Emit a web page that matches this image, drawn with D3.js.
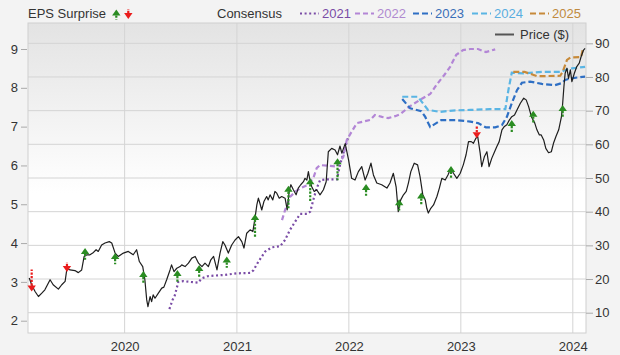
<!DOCTYPE html>
<html><head><meta charset="utf-8">
<script src="https://cdn.jsdelivr.net/npm/d3@7"></script>
<style>
html,body{margin:0;padding:0;background:#f3f3f3;}
svg{display:block;font-family:"Liberation Sans",Arial,sans-serif;}
</style></head>
<body><svg id="c" width="620" height="355"></svg>
<script>
// ---------------- DATA ----------------
const priceDates = ["2019-02-24","2019-03-04","2019-03-15","2019-03-26","2019-04-06","2019-04-16","2019-05-03","2019-05-13","2019-05-30","2019-06-10","2019-06-21","2019-06-27","2019-07-07","2019-07-23","2019-08-03","2019-08-14","2019-08-22","2019-08-31","2019-09-10","2019-09-19","2019-09-30","2019-10-07","2019-10-18","2019-10-29","2019-11-12","2019-11-20","2019-12-01","2019-12-11","2019-12-28","2020-01-13","2020-01-29","2020-02-09","2020-02-18","2020-02-29","2020-03-07","2020-03-13","2020-03-17","2020-03-24","2020-03-29","2020-04-03","2020-04-09","2020-04-20","2020-05-01","2020-05-08","2020-05-17","2020-05-28","2020-06-02","2020-06-10","2020-06-19","2020-06-30","2020-07-05","2020-07-16","2020-07-27","2020-08-07","2020-08-18","2020-08-29","2020-09-09","2020-09-19","2020-09-30","2020-10-08","2020-10-17","2020-10-28","2020-11-07","2020-11-16","2020-11-23","2020-12-04","2020-12-15","2020-12-26","2021-01-06","2021-01-17","2021-01-24","2021-02-02","2021-02-13","2021-02-22","2021-03-01","2021-03-07","2021-03-12","2021-03-17","2021-03-23","2021-03-30","2021-04-08","2021-04-13","2021-04-19","2021-04-28","2021-05-05","2021-05-11","2021-05-19","2021-05-27","2021-06-07","2021-06-14","2021-06-21","2021-06-26","2021-07-04","2021-07-13","2021-07-20","2021-07-28","2021-08-06","2021-08-11","2021-08-17","2021-08-22","2021-08-28","2021-09-02","2021-09-10","2021-09-18","2021-09-29","2021-10-10","2021-10-19","2021-10-26","2021-11-06","2021-11-17","2021-11-25","2021-12-03","2021-12-09","2021-12-20","2021-12-31","2022-01-10","2022-01-21","2022-02-01","2022-02-12","2022-02-23","2022-03-04","2022-03-14","2022-03-22","2022-04-02","2022-04-18","2022-05-05","2022-05-15","2022-05-26","2022-06-04","2022-06-11","2022-06-19","2022-06-28","2022-07-07","2022-07-14","2022-07-22","2022-08-02","2022-08-13","2022-08-21","2022-08-30","2022-09-07","2022-09-12","2022-09-17","2022-09-25","2022-10-04","2022-10-15","2022-10-23","2022-10-31","2022-11-11","2022-11-20","2022-11-29","2022-12-08","2022-12-19","2022-12-30","2023-01-09","2023-01-18","2023-01-26","2023-02-04","2023-02-11","2023-02-19","2023-02-25","2023-03-05","2023-03-10","2023-03-19","2023-03-27","2023-04-03","2023-04-12","2023-04-21","2023-04-28","2023-05-06","2023-05-15","2023-05-23","2023-05-31","2023-06-08","2023-06-16","2023-06-25","2023-07-03","2023-07-14","2023-07-25","2023-08-02","2023-08-10","2023-08-19","2023-08-30","2023-09-06","2023-09-14","2023-09-20","2023-09-28","2023-10-05","2023-10-14","2023-10-23","2023-10-30","2023-11-07","2023-11-16","2023-11-25","2023-11-29","2023-12-03","2023-12-07","2023-12-13","2023-12-18","2023-12-24","2023-12-29","2024-01-06","2024-01-14","2024-01-22","2024-01-28","2024-02-05","2024-02-10"];
const priceValues = [20.3,18.3,16.3,14.8,15.8,16.8,19.8,18.3,17.0,18.3,19.3,23.2,22.7,22.5,21.9,22.7,26.7,27.2,27.2,27.7,28.7,28.2,30.1,30.7,31.1,30.7,27.7,26.7,27.7,28.2,27.2,28.7,25.2,23.7,19.8,13.8,11.8,14.8,13.3,15.3,14.3,15.8,17.3,17.6,19.8,22.7,24.2,22.2,23.2,23.7,24.2,23.7,24.7,26.2,26.7,24.7,23.7,24.7,23.7,25.7,26.7,22.7,27.7,31.1,30.1,27.7,30.1,31.6,32.6,31.1,29.2,33.6,34.6,34.1,38.1,42.0,44.0,42.5,40.5,43.0,44.5,43.5,45.0,43.5,46.0,45.5,44.0,44.5,44.0,40.5,46.5,48.0,46.5,45.0,47.0,48.0,48.9,49.9,49.4,51.9,48.9,47.4,46.0,46.5,45.0,46.5,48.9,57.8,58.8,58.3,56.9,59.5,57.4,60.2,55.4,49.9,49.4,51.9,53.4,49.4,51.4,54.4,50.9,48.5,48.0,47.0,48.5,51.4,47.4,40.0,43.5,45.0,46.0,48.5,51.9,54.4,53.9,50.4,45.0,43.5,41.0,39.6,41.0,42.0,44.5,47.0,49.9,49.4,50.9,52.9,51.4,49.9,51.4,53.9,56.9,60.8,60.8,60.3,61.8,62.3,57.4,53.4,56.4,57.8,53.4,55.9,57.8,59.3,60.8,64.3,65.3,65.8,67.2,68.2,68.7,70.2,72.2,73.7,73.2,71.2,68.2,66.3,64.3,62.8,62.8,61.3,58.8,57.5,57.8,60.3,62.3,64.3,68.2,72.2,77.1,81.1,82.6,79.6,82.1,78.6,81.1,83.1,84.1,86.0,88.0,88.5];

const consensusYears = ["2021","2022","2023","2024","2025"];
const eps2021Dates = ["2020-05-26","2020-06-05","2020-06-13","2020-06-24","2020-07-10","2020-08-01","2020-08-28","2020-09-08","2020-09-30","2020-11-23","2020-12-31","2021-02-13","2021-02-24","2021-03-12","2021-04-03","2021-04-25","2021-05-22","2021-06-07","2021-06-23","2021-07-13","2021-07-26","2021-08-17","2021-08-28","2021-09-07","2021-09-18","2021-09-29","2021-10-21","2021-11-23","2021-12-03","2021-12-20","2021-12-30"];
const eps2021Values = [2.30,2.53,2.66,3.00,3.02,3.00,2.98,3.09,3.15,3.18,3.22,3.23,3.30,3.52,3.78,3.89,3.92,4.08,4.34,4.59,4.75,4.75,4.81,5.11,5.41,5.62,5.64,5.64,6.01,6.48,6.73];
const eps2022Dates = ["2021-05-28","2021-06-07","2021-06-23","2021-07-10","2021-07-26","2021-08-17","2021-09-07","2021-09-18","2021-09-29","2021-11-23","2021-12-14","2021-12-25","2022-01-10","2022-01-27","2022-02-17","2022-03-11","2022-03-27","2022-04-19","2022-05-09","2022-06-01","2022-06-17","2022-07-20","2022-08-21","2022-09-23","2022-10-16","2022-11-08","2022-11-27","2022-12-17","2023-01-08","2023-02-01","2023-02-26","2023-03-24","2023-04-23"];
const eps2022Values = [4.59,4.85,5.19,5.32,5.41,5.49,5.67,5.93,6.01,5.97,6.22,6.65,6.87,7.09,7.13,7.17,7.30,7.25,7.22,7.27,7.32,7.53,7.69,7.84,8.10,8.33,8.54,8.85,8.97,9.00,9.00,8.92,8.99];
const eps2023Dates = ["2022-06-24","2022-07-20","2022-08-25","2022-09-07","2022-09-23","2022-10-13","2022-10-29","2022-12-14","2023-02-01","2023-02-26","2023-03-24","2023-04-23","2023-05-15","2023-05-31","2023-06-16","2023-07-03","2023-07-19","2023-08-15","2023-09-22","2023-11-04","2023-11-26","2023-12-07","2023-12-24","2024-01-20","2024-02-10"];
const eps2023Values = [7.71,7.47,7.40,7.25,6.99,7.09,7.17,7.17,7.13,7.09,6.98,6.98,7.04,7.25,7.60,7.94,8.13,8.16,8.10,8.07,8.12,8.20,8.24,8.27,8.29];
const eps2024Dates = ["2022-06-24","2022-08-14","2022-09-16","2022-10-25","2022-12-14","2023-02-01","2023-04-06","2023-05-26","2023-06-05","2023-06-16","2023-07-25","2023-09-22","2023-11-26","2023-12-07","2023-12-29","2024-02-10"];
const eps2024Values = [7.77,7.77,7.43,7.38,7.42,7.43,7.45,7.45,7.94,8.39,8.37,8.41,8.41,8.46,8.50,8.54];
const eps2025Dates = ["2023-06-21","2023-07-28","2023-09-06","2023-11-21","2023-11-29","2023-12-13","2023-12-24","2024-01-28","2024-02-02"];
const eps2025Values = [8.41,8.41,8.30,8.31,8.41,8.72,8.78,8.79,8.97];

const surpriseDates = ["2019-03-04","2019-06-27","2019-08-25","2019-12-01","2020-03-02","2020-06-21","2020-08-31","2020-11-29","2021-03-01","2021-06-18","2021-08-28","2021-11-25","2022-02-26","2022-06-14","2022-08-25","2022-11-30","2023-02-22","2023-06-16","2023-08-25","2023-11-29"];
const surprisePrices = [16.3,22.1,29.2,27.7,22.4,22.7,24.2,26.7,39.3,47.7,49.9,55.9,48.2,43.7,45.7,53.6,61.8,67.2,70.0,71.7];
const surprisePct = [-25,-5,8,7,8,8,9.5,7,28,26,28,25,8,7,8,9.5,-8,8,8,8];

const yearTicks = ["2020","2021","2022","2023","2024"];
const epsTicks = [2,3,4,5,6,7,8,9];
const priceTicks = [10,20,30,40,50,60,70,80,90];

// ---------------- CHART ----------------
const parse = d3.timeParse("%Y-%m-%d");
const svg = d3.select("#c");
const L = 28, R = 586, T = 23, B = 333;
const x = d3.scaleTime().domain([parse("2019-02-20"), parse("2024-02-13")]).range([L, R]);
const yP = d3.scaleLinear().domain([10, 90]).range([312.7, 43.3]);
const yE = d3.scaleLinear().domain([2, 9]).range([320.7, 49]);
const stemScale = d3.scaleLinear().domain([0, 30]).range([0, 18]);

const defs = svg.append("defs");
const g = defs.append("linearGradient").attr("id","bg").attr("x1",0).attr("y1",0).attr("x2",0).attr("y2",1);
g.append("stop").attr("offset","0%").attr("stop-color","#e3e3e3");
g.append("stop").attr("offset","55%").attr("stop-color","#ffffff");
g.append("stop").attr("offset","100%").attr("stop-color","#ffffff");

svg.append("rect").attr("x",0).attr("y",0).attr("width",620).attr("height",355).attr("fill","#f3f3f3");
svg.append("rect").attr("x",L).attr("y",T).attr("width",R-L).attr("height",B-T).attr("fill","url(#bg)");

// grid
svg.append("g").selectAll("line").data(priceTicks).join("line")
  .attr("x1",L).attr("x2",R).attr("y1",d=>yP(d)).attr("y2",d=>yP(d))
  .attr("stroke","#d4d4d4").attr("stroke-width",1);
svg.append("g").selectAll("line").data(yearTicks).join("line")
  .attr("x1",d=>x(parse(d+"-01-01"))).attr("x2",d=>x(parse(d+"-01-01"))).attr("y1",T).attr("y2",B)
  .attr("stroke","#d4d4d4").attr("stroke-width",1);
svg.append("rect").attr("x",L).attr("y",T).attr("width",R-L).attr("height",B-T)
  .attr("fill","none").attr("stroke","#cfcfcf").attr("stroke-width",1);

// axes
const axL = d3.axisLeft(yE).tickValues(epsTicks).tickFormat(d3.format("d")).tickSize(6).tickPadding(3);
const gl = svg.append("g").attr("transform",`translate(${L-1},0)`).call(axL);
const axR = d3.axisRight(yP).tickValues(priceTicks).tickFormat(d3.format("d")).tickSize(7).tickPadding(2);
const gr = svg.append("g").attr("transform",`translate(${R},0)`).call(axR);
const axB = d3.axisBottom(x).tickValues(yearTicks.map(d=>parse(d+"-01-01"))).tickFormat(d3.timeFormat("%Y")).tickSize(0).tickPadding(9);
const gb = svg.append("g").attr("transform",`translate(0,${B})`).call(axB);
[gl,gr,gb].forEach(a=>{
  a.select(".domain").remove();
  a.selectAll("line").attr("stroke","#aaa");
  a.selectAll("text").attr("fill","#333").style("font-size","13px").style("font-family","'Liberation Sans',Arial,sans-serif");
});

// consensus lines
const colors = ["#7a4ca6","#b386d6","#2e6fc4","#5ab5e4","#c78a3a"];
const textColors = ["#7a4ca6","#b08ad0","#3a6fb8","#5aaee0","#c08a3e"];
const dashes = ["2,2.6","5,3","6,3","6,3","6,3"];
const series = [
  [eps2021Dates, eps2021Values],[eps2022Dates, eps2022Values],[eps2023Dates, eps2023Values],
  [eps2024Dates, eps2024Values],[eps2025Dates, eps2025Values]];
const eline = d3.line().x(d=>x(d[0])).y(d=>yE(d[1]));
series.forEach((s,i)=>{
  const pts = s[0].map((d,j)=>[parse(d), s[1][j]]);
  svg.append("path").datum(pts).attr("d",eline).attr("fill","none")
    .attr("stroke",colors[i]).attr("stroke-width",2.2).attr("stroke-dasharray",dashes[i]);
});

// price line
const pts = priceDates.map((d,i)=>[parse(d), priceValues[i]]);
svg.append("path").datum(pts).attr("d", d3.line().x(d=>x(d[0])).y(d=>yP(d[1])))
  .attr("fill","none").attr("stroke","#1e1e1e").attr("stroke-width",1.2).attr("stroke-linejoin","round");

// surprise arrows
function arrow(parent, cx, tip, dir, stem, color){
  const h = 6, w = 4.2;
  const base = tip - dir*h;
  parent.append("line").attr("x1",cx).attr("x2",cx).attr("y1",base).attr("y2",base - dir*(stem+1))
    .attr("stroke",color).attr("stroke-width",2.2).attr("stroke-dasharray","2.2,1.4");
  parent.append("path").attr("d",`M${cx},${tip}L${cx-w},${base}L${cx+w},${base}Z`).attr("fill",color);
}
const ga = svg.append("g");
surpriseDates.forEach((d,i)=>{
  const up = surprisePct[i] > 0;
  arrow(ga, x(parse(d)), yP(surprisePrices[i]), up ? -1 : 1, stemScale(Math.abs(surprisePct[i])), up ? "#2a8c22" : "#ea1c1c");
});

// legends
const font = "'Liberation Sans',Arial,sans-serif";
svg.append("text").attr("x",28).attr("y",18).text("EPS Surprise").attr("fill","#333").style("font-size","13px").style("font-family",font);
arrow(svg, 116.3, 9.5, -1, 3, "#2a8c22");
arrow(svg, 128.3, 19, 1, 3, "#ea1c1c");
svg.append("text").attr("x",217).attr("y",18).text("Consensus").attr("fill","#333").style("font-size","13px").style("font-family",font);
const legX = [300, 355, 413, 472, 530];
consensusYears.forEach((yr,i)=>{
  svg.append("line").attr("x1",legX[i]).attr("x2",legX[i]+19).attr("y1",13.5).attr("y2",13.5)
    .attr("stroke",colors[i]).attr("stroke-width",2.2).attr("stroke-dasharray",dashes[i]);
  svg.append("text").attr("x",legX[i]+22).attr("y",18).text(yr).attr("fill",textColors[i])
    .style("font-size","13px").style("font-family",font);
});
svg.append("line").attr("x1",495).attr("x2",514).attr("y1",34.5).attr("y2",34.5).attr("stroke","#555").attr("stroke-width",2);
svg.append("text").attr("x",520).attr("y",39).text("Price ($)").attr("fill","#333").style("font-size","13px").style("font-family",font);
</script></body></html>
